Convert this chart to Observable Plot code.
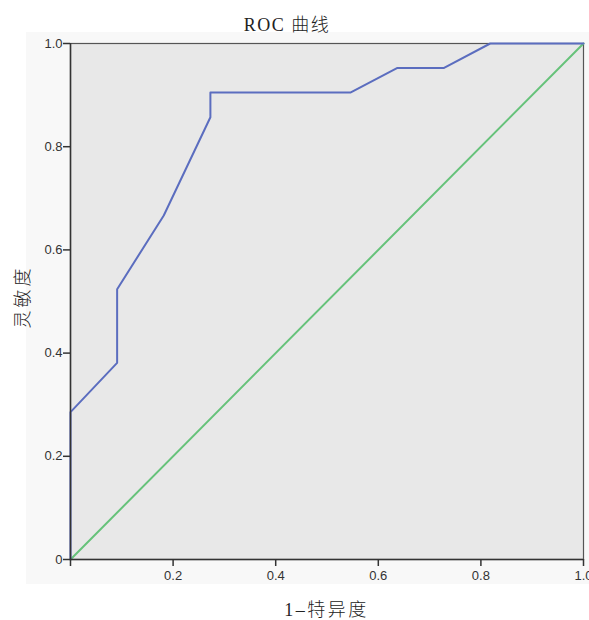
<!DOCTYPE html>
<html>
<head>
<meta charset="utf-8">
<script src="https://cdn.jsdelivr.net/npm/d3@7"></script>
<script src="https://cdn.jsdelivr.net/npm/@observablehq/plot@0.6"></script>
<style>
  html, body { margin: 0; padding: 0; background: #fff; }
  #wrap { position: relative; width: 589px; height: 620px; overflow: hidden; }
  #panel { position: absolute; left: 26px; top: 32px; width: 563px; height: 552px; background: #f8f8f8; }
  .lbl { position: absolute; font-family: "Liberation Serif", "Noto Sans CJK SC", serif; font-weight: 300; color: #222; white-space: nowrap; }
  #title { left: 0; width: 574px; top: 10px; text-align: center; font-size: 18px; letter-spacing: 1.5px; }
  #xlabel { left: 70px; width: 513px; top: 595px; text-align: center; font-size: 18px; letter-spacing: 2.5px; }
  #ylabel { left: 21px; top: 297px; font-size: 18px; letter-spacing: 3px; transform: translate(-50%, -50%) rotate(-90deg); }
  #chart { position: absolute; left: 0; top: 35px; }
</style>
</head>
<body>
<div id="wrap">
  <div id="panel"></div>
  <div id="title" class="lbl">ROC 曲线</div>
  <div id="chart"></div>
  <div id="xlabel" class="lbl">1–特异度</div>
  <div id="ylabel" class="lbl">灵敏度</div>
</div>
<script>
// ROC curve points (1 - specificity, sensitivity)
const fpr = [0, 0, 0.0909, 0.0909, 0.1818, 0.2727, 0.2727, 0.5455, 0.6364, 0.7273, 0.8182, 1.0];
const tpr = [0, 0.2857, 0.3810, 0.5238, 0.6667, 0.8571, 0.9048, 0.9048, 0.9524, 0.9524, 1.0, 1.0];
// reference diagonal
const diagX = [0, 1];
const diagY = [0, 1];
const xTicks = [0, 0.2, 0.4, 0.6, 0.8, 1.0];
const xTickLabels = ["", "0.2", "0.4", "0.6", "0.8", "1.0"];
const yTicks = [0, 0.2, 0.4, 0.6, 0.8, 1.0];
const yTickLabels = ["0", "0.2", "0.4", "0.6", "0.8", "1.0"];

const roc = fpr.map((x, i) => ({x, y: tpr[i]}));
const diag = diagX.map((x, i) => ({x, y: diagY[i]}));

const chart = Plot.plot({
  width: 589,
  height: 585,
  marginTop: 8,
  marginLeft: 70,
  marginRight: 6,
  marginBottom: 61,
  style: {background: "transparent", fontFamily: "'Liberation Sans', Arial, sans-serif", fontSize: "13px", color: "#333"},
  x: {domain: [0, 1]},
  y: {domain: [0, 1]},
  marks: [
    Plot.frame({fill: "#e8e8e8", stroke: "#555", strokeWidth: 1.2}),
    Plot.line(diag, {x: "x", y: "y", stroke: "#66c27a", strokeWidth: 2}),
    Plot.line(roc, {x: "x", y: "y", stroke: "#5b6dbf", strokeWidth: 2}),
    Plot.ruleX([0], {stroke: "#333", strokeWidth: 1.5}),
    Plot.ruleY([0], {stroke: "#333", strokeWidth: 1.5}),
    Plot.axisX({ticks: xTicks, tickFormat: (d, i) => xTickLabels[i], tickSize: 7, tickPadding: 4, label: null, stroke: "#333", strokeWidth: 1.5, fontSize: 13}),
    Plot.axisY({ticks: yTicks, tickFormat: (d, i) => yTickLabels[i], tickSize: 7, tickPadding: 1, label: null, stroke: "#333", strokeWidth: 1.5, fontSize: 13})
  ]
});
document.getElementById("chart").appendChild(chart);
</script>
</body>
</html>
